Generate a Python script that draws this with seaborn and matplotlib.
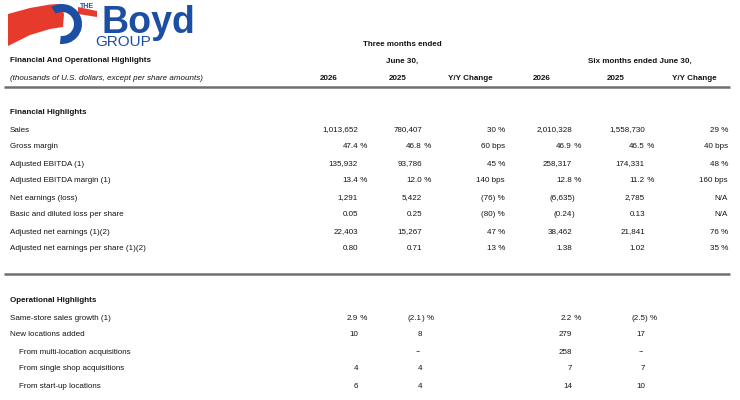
import matplotlib.pyplot as plt
import seaborn as sns
from matplotlib.patches import Polygon, Wedge

# Financial highlights
fin_labels = ['Sales', 'Gross margin', 'Adjusted EBITDA (1)', 'Adjusted EBITDA margin (1)',
              'Net earnings (loss)', 'Basic and diluted loss per share',
              'Adjusted net earnings (1)(2)', 'Adjusted net earnings per share (1)(2)']
fin_q26 = ['1,013,652', '47.4 %', '135,932', '13.4 %', '1,291', '0.05', '22,403', '0.80']
fin_q25 = ['780,407', '46.8 %', '93,786', '12.0 %', '5,422', '0.25', '15,267', '0.71']
fin_qchg = ['30 %', '60 bps', '45 %', '140 bps', '(76) %', '(80) %', '47 %', '13 %']
fin_h26 = ['2,010,328', '46.9 %', '258,317', '12.8 %', '(6,635)', '(0.24)', '38,462', '1.38']
fin_h25 = ['1,558,730', '46.5 %', '174,331', '11.2 %', '2,785', '0.13', '21,841', '1.02']
fin_hchg = ['29 %', '40 bps', '48 %', '160 bps', 'N/A', 'N/A', '76 %', '35 %']

# Operational highlights
op_labels = ['Same-store sales growth (1)', 'New locations added',
             'From multi-location acquisitions', 'From single shop acquisitions',
             'From start-up locations']
op_indent = [False, False, True, True, True]
op_q26 = ['2.9 %', '10', '', '4', '6']
op_q25 = ['(2.1) %', '8', '--', '4', '4']
op_h26 = ['2.2 %', '279', '258', '7', '14']
op_h25 = ['(2.5) %', '17', '--', '7', '10']

col_years = ['2026', '2025', 'Y/Y Change', '2026', '2025', 'Y/Y Change']

sns.set_theme(style='white')
plt.rcParams['font.family'] = ['Liberation Sans', 'DejaVu Sans']

fig = plt.figure(figsize=(7.4, 4.0), dpi=100)
ax = fig.add_axes([0, 0, 1, 1])
ax.set_xlim(0, 740)
ax.set_ylim(400, 0)
ax.axis('off')

FS = 5.8
TXT = '#141414'
BLUE = '#1c4fa3'
RED = '#e63a2c'

# --- logo (pixel coords, y down) ---
ax.add_patch(Polygon([(8, 14), (30, 8), (50, 4.5), (60, 4), (64, 14), (63, 27),
                      (50, 29), (30, 35), (8, 46)],
                     closed=True, color=RED, lw=0))
ax.add_patch(Polygon([(78, 7), (97, 11), (97, 17), (78, 14)], closed=True, color=RED, lw=0))
ax.add_patch(Wedge((62, 24), 20, -122, 96, width=8, color=BLUE, lw=0))
ax.text(80, 8.5, 'THE', fontsize=5, fontweight='bold', color=BLUE, va='baseline', ha='left')
ax.text(101, 33, 'Boyd', fontsize=27, fontweight='bold', color=BLUE, va='baseline', ha='left')
ax.text(95, 45.5, 'GROUP', fontsize=11, color=BLUE, va='baseline', ha='left')

# --- headers ---
ax.text(402, 44, 'Three months ended', fontsize=FS, fontweight='bold', color=TXT, ha='center', va='center')
ax.text(402, 61, 'June 30,', fontsize=FS, fontweight='bold', color=TXT, ha='center', va='center')
ax.text(640, 61, 'Six months ended June 30,', fontsize=FS, fontweight='bold', color=TXT, ha='center', va='center')
ax.text(10, 61, 'Financial And Operational Highlights', fontsize=FS, fontweight='bold', color=TXT, va='center')
ax.text(10, 79, '(thousands of U.S. dollars, except per share amounts)', fontsize=FS,
        fontstyle='italic', color=TXT, va='center')
head_x = [329, 398, 470, 542, 616, 694]
for x, t in zip(head_x, col_years):
    ax.text(x, 79, t, fontsize=FS, fontweight='bold', color=TXT, ha='center', va='center')

ax.plot([4, 730], [86.5, 86.5], color='#6e6e6e', lw=1.8, solid_capstyle='butt')
ax.plot([4, 730], [274, 274], color='#6e6e6e', lw=1.8, solid_capstyle='butt')

# digit columns (numbers right aligned, ")" and " %" hang to the right)
num_cols = [358, 422, 572, 645]
chg_cols = [505, 728]


def split_cell(s):
    suffix = ''
    if s.endswith(' %'):
        s, suffix = s[:-2], ' %'
    if s.endswith(')'):
        s, suffix = s[:-1], ')' + suffix
    return s, suffix


def put_num(x, y, s):
    core, suf = split_cell(s)
    ax.text(x, y, core, fontsize=FS, color=TXT, ha='right', va='center')
    if suf:
        ax.text(x, y, suf, fontsize=FS, color=TXT, ha='left', va='center')


ax.text(10, 113, 'Financial Highlights', fontsize=FS, fontweight='bold', color=TXT, va='center')
for i, lab in enumerate(fin_labels):
    y = 130 + i * 17
    ax.text(10, y, lab, fontsize=FS, color=TXT, va='center')
    for x, col in zip(num_cols, [fin_q26, fin_q25, fin_h26, fin_h25]):
        put_num(x, y, col[i])
    for x, col in zip(chg_cols, [fin_qchg, fin_hchg]):
        ax.text(x, y, col[i], fontsize=FS, color=TXT, ha='right', va='center')

ax.text(10, 301, 'Operational Highlights', fontsize=FS, fontweight='bold', color=TXT, va='center')
for i, lab in enumerate(op_labels):
    y = 318 + i * 17
    ax.text(19 if op_indent[i] else 10, y, lab, fontsize=FS, color=TXT, va='center')
    for x, col in zip(num_cols, [op_q26, op_q25, op_h26, op_h25]):
        if col[i] == '--':
            ax.text(x - 4, y, '--', fontsize=FS, color=TXT, ha='center', va='center')
        elif col[i]:
            put_num(x, y, col[i])

fig.savefig('out.png', dpi=100, facecolor='white')
